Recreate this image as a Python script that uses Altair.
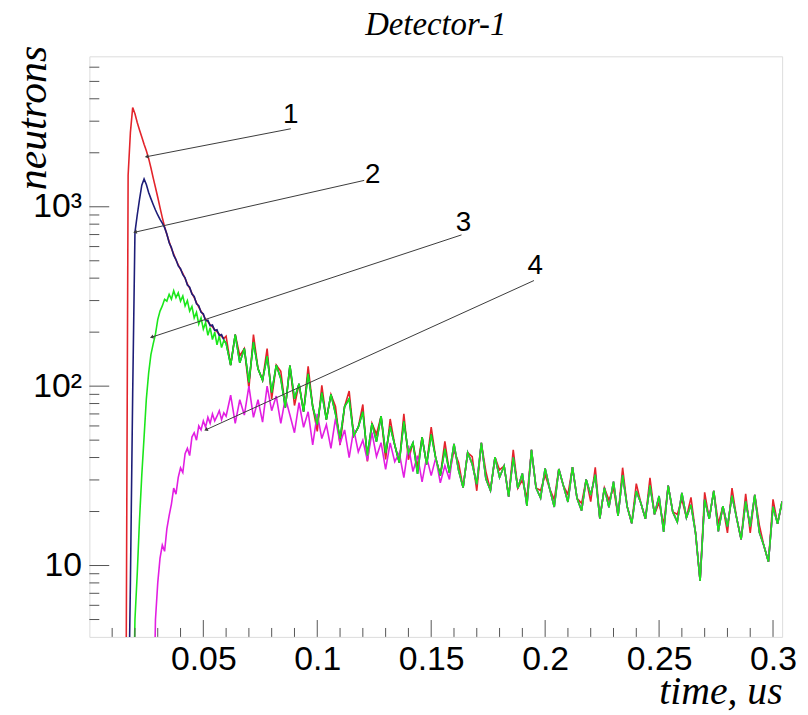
import altair as alt
import pandas as pd

# ---------------- data ----------------
# time bins: 1 ns bins up to 0.06 us, then 2 ns bins up to 0.304 us
t_early = [round(i * 0.001, 3) for i in range(60)]
t_tail = [round(0.060 + i * 0.002, 3) for i in range(123)]

red_early = [1] * 17 + [
    1500, 2600, 3570, 3300, 2950, 2680, 2450, 2230, 2050, 1860,
    1650, 1450, 1280, 1130, 990, 870, 775, 700, 640, 585,
    545, 505, 475, 448, 425, 398, 372, 352, 330, 312,
    292, 276, 262, 250, 236, 229, 220, 214, 206, 201,
    195, 189, 184]

blue_early = [1] * 18 + [
    8, 90, 720, 900, 1100, 1320, 1430, 1330, 1200, 1110,
    1030, 960, 900, 850, 810, 765, 705, 630, 592, 535,
    508, 468, 452, 418, 402, 366, 356, 326, 316, 288,
    281, 258, 253, 231, 233, 217, 219, 204, 206, 191,
    194, 181]

green_early = [1] * 20 + [
    5, 9, 18, 32, 52, 85, 118, 150, 172, 195,
    235, 262, 280, 305, 298, 325, 305, 340, 312, 332,
    298, 318, 280, 300, 262, 278, 240, 258, 222, 240,
    208, 226, 192, 212, 182, 200, 170, 190, 164, 180]

magenta_early = [1] * 29 + [
    5, 8, 11, 13, 12, 16, 19, 22, 27, 25,
    31, 35, 33, 42, 45, 41, 52, 55, 50, 60,
    57, 64, 59, 67, 62, 70, 64, 68, 73, 65,
    71]

# 0.060 .. 0.158 us (2 ns bins)
magenta_mid = [
    68, 89, 62, 84, 69, 100, 67, 84, 63, 100,
    73, 88, 62, 86, 69, 55, 81, 59, 72, 47,
    70, 51, 61, 45, 66, 48, 57, 40, 57.5, 43,
    50, 38.5, 55, 40.5, 48.4, 34.4, 48.3, 37.9, 42.4, 30.9,
    46.6, 33.4, 41, 29.3, 40.2, 31.7, 39.8, 28.9, 36.1, 30.2]

# 0.060 .. 0.304 us (2 ns bins)
green_tail = [
    173, 131, 194, 135, 162, 105, 176, 125, 108, 147,
    92, 131, 110, 76, 130, 85, 103, 72, 117, 77,
    61, 92, 65, 90, 70, 51, 77, 85, 53, 59,
    72, 41, 62, 49, 68, 42.4, 59.6, 47, 37.5, 63.6,
    42.3, 48.3, 32.4, 51.9, 36.6, 53.8, 39.6, 31.7, 44.7, 32.9,
    47.7, 34.1, 27.2, 42.6, 36.8, 28.4, 48.3, 30.4, 26.2, 40.2,
    31, 35.9, 24.2, 40.1, 27, 32.6, 21.5, 44.1, 27.1, 23.8,
    34.8, 26.8, 21.2, 34.5, 27.9, 22.6, 35.4, 23.7, 20.2, 30.2,
    24.7, 32.1, 18.3, 27.1, 21.1, 29.4, 18.9, 31.9, 21.3, 17.2,
    26, 22.3, 18.2, 28, 19.3, 24.4, 15.4, 27.9, 19.9, 17.5,
    25.4, 18.5, 21.8, 15.2, 8.2, 23.3, 18.2, 26.1, 15.5, 21.4,
    16.5, 24.5, 18.5, 14, 22.8, 16.5, 24.8, 15.3, 12.9, 10.5,
    21.3, 17.1, 22.8]

red_tail = [
    190, 131, 194, 148, 162, 97, 194, 125, 108, 162,
    85, 131, 121, 76, 130, 78, 103, 72, 129, 77,
    56, 101, 65, 90, 77, 47, 77, 94, 53, 59,
    79, 38, 62, 54, 68, 39, 65.6, 47, 37.5, 70,
    38.9, 48.3, 35.6, 51.9, 36.6, 59.2, 39.6, 31.7, 49.2, 32.9,
    43.9, 37.5, 27.2, 42.6, 40.5, 26.1, 48.3, 33.4, 26.2, 40.2,
    34.1, 35.9, 24.2, 44.1, 27, 30, 23.7, 44.1, 27.1, 26.2,
    32, 26.8, 23.3, 34.5, 27.9, 24.9, 35.4, 23.7, 22.2, 30.2,
    22.7, 35.3, 18.3, 27.1, 23.2, 27, 18.9, 35.1, 21.3, 17.2,
    28.6, 22.3, 18.2, 30.8, 19.3, 22.4, 16.9, 27.9, 19.9, 19.3,
    23.4, 18.5, 24, 15.2, 8.2, 25.6, 18.2, 26.1, 17.1, 21.4,
    15.2, 27, 18.5, 14, 25.1, 15.2, 24.8, 16.8, 12.9, 10.5,
    23.4, 17.1, 22.8]

series_colors = ["#e3242b", "#1d1d78", "#1be61b", "#e21ee2"]

# annotation lines (label end -> arrow tip) and label positions
ann_label = ["1", "2", "3", "4"]
ann_x1 = [0.0884, 0.1206, 0.1633, 0.1951]
ann_y1 = [2722, 1403, 697, 388]
ann_x2 = [0.0254, 0.0203, 0.0276, 0.0514]
ann_y2 = [1905, 723, 188, 57.3]
ann_tx = [0.0884, 0.1243, 0.1642, 0.1956]
ann_ty = [2938, 1351, 733, 424]
arrow_angle = [259, 257, 252, 246]

# axis ticks
x_major = [0.05, 0.1, 0.15, 0.2, 0.25, 0.3]
x_minor = [0.01, 0.02, 0.03, 0.04, 0.06, 0.07, 0.08, 0.09, 0.11, 0.12, 0.13,
           0.14, 0.16, 0.17, 0.18, 0.19, 0.21, 0.22, 0.23, 0.24, 0.26, 0.27,
           0.28, 0.29]
y_major = [10, 100, 1000]
y_minor = [5, 6, 7, 8, 9, 20, 30, 40, 50, 60, 70, 80, 90,
           200, 300, 400, 500, 600, 700, 800, 900,
           2000, 3000, 4000, 5000, 6000]

chart_title = "Detector-1"

# ---------------- chart ----------------
W, H = 698, 585
t_all = t_early + t_tail
series_values = [
    red_early + red_tail,
    blue_early + green_tail,
    green_early + green_tail,
    magenta_early + magenta_mid + green_tail[50:],
]
draw_order = [0, 1, 3, 2]  # red, blue, magenta, green on top

xscale = alt.Scale(domain=[0, 0.304], nice=False, zero=False)
yscale = alt.Scale(type="log", domain=[4, 6900], nice=False)

xaxis = alt.Axis(
    values=x_major, format="~g", grid=False, ticks=False, tickSize=0, domain=False,
    labelFont="Liberation Sans", labelFontSize=34, labelColor="black",
    labelPadding=6, labelFlush=False,
    title="time, us", titleFont="Liberation Serif", titleFontStyle="italic",
    titleFontWeight="normal", titleFontSize=40, titleColor="black",
    titleAnchor="end", titleAlign="right", titleBaseline="alphabetic",
    titleX=W, titleY=67,
)
yaxis = alt.Axis(
    values=y_major, grid=False, ticks=False, tickSize=0, domain=False,
    labelExpr="datum.value == 1000 ? '10³' : datum.value == 100 ? '10²' : '10'",
    labelFont="Liberation Sans", labelFontSize=34, labelColor="black",
    labelPadding=8, labelBaseline="middle",
    title="neutrons", titleFont="Liberation Serif", titleFontStyle="italic",
    titleFontWeight="normal", titleFontSize=42, titleColor="black",
    titleAngle=270, titleAlign="right", titleBaseline="alphabetic",
    titleX=-44, titleY=-11,
)

layers = []
for i in draw_order:
    df = pd.DataFrame({"t": t_all, "n": series_values[i]})
    layers.append(
        alt.Chart(df).mark_line(interpolate="linear", strokeWidth=1.6, clip=True,
                                color=series_colors[i])
        .encode(x=alt.X("t:Q", scale=xscale, axis=xaxis),
                y=alt.Y("n:Q", scale=yscale, axis=yaxis))
    )

ann_df = pd.DataFrame({"lab": ann_label, "x1": ann_x1, "y1": ann_y1,
                       "x2": ann_x2, "y2": ann_y2, "tx": ann_tx, "ty": ann_ty,
                       "ang": arrow_angle})
ann_lines = alt.Chart(ann_df).mark_rule(color="#3a3a3a", strokeWidth=1).encode(
    x=alt.X("x1:Q", scale=xscale, axis=xaxis), y=alt.Y("y1:Q", scale=yscale, axis=yaxis),
    x2="x2:Q", y2="y2:Q")
ann_heads = alt.Chart(ann_df).mark_point(shape="triangle", filled=True, size=18,
                                         color="#3a3a3a", opacity=1).encode(
    x=alt.X("x2:Q", scale=xscale, axis=xaxis), y=alt.Y("y2:Q", scale=yscale, axis=yaxis),
    angle=alt.Angle("ang:Q", scale=None))
ann_text = alt.Chart(ann_df).mark_text(font="Liberation Sans", fontSize=28,
                                       align="center", baseline="alphabetic",
                                       color="black").encode(
    x=alt.X("tx:Q", scale=xscale, axis=xaxis), y=alt.Y("ty:Q", scale=yscale, axis=yaxis),
    text="lab:N")

title_text = alt.Chart(pd.DataFrame({"txt": [chart_title]})).mark_text(
    font="Liberation Serif", fontStyle="italic", fontSize=33, color="black",
    align="center", baseline="alphabetic", clip=False).encode(
    x=alt.value(W / 2), y=alt.value(-21), text="txt:N")

tick_color = "#555555"
xmaj = alt.Chart(pd.DataFrame({"v": x_major})).mark_rule(color=tick_color, strokeWidth=1).encode(
    x=alt.X("v:Q", scale=xscale, axis=xaxis), y=alt.value(H), y2=alt.value(H - 17))
xmin = alt.Chart(pd.DataFrame({"v": x_minor})).mark_rule(color=tick_color, strokeWidth=1).encode(
    x=alt.X("v:Q", scale=xscale, axis=xaxis), y=alt.value(H), y2=alt.value(H - 9))
ymaj = alt.Chart(pd.DataFrame({"v": y_major})).mark_rule(color=tick_color, strokeWidth=1).encode(
    y=alt.Y("v:Q", scale=yscale, axis=yaxis), x=alt.value(0), x2=alt.value(20))
ymin = alt.Chart(pd.DataFrame({"v": y_minor})).mark_rule(color=tick_color, strokeWidth=1).encode(
    y=alt.Y("v:Q", scale=yscale, axis=yaxis), x=alt.value(0), x2=alt.value(10))

chart = alt.layer(
    *layers, ann_lines, ann_heads, ann_text, xmaj, xmin, ymaj, ymin, title_text
).properties(
    width=W, height=H,
    padding={"left": 82, "top": 46, "right": 18, "bottom": 74},
    autosize=alt.AutoSizeParams(type="none"),
).configure_view(stroke="#555555", strokeWidth=1).configure(background="white")

chart.save("out.html", embed_options={"renderer": "svg", "actions": False})
